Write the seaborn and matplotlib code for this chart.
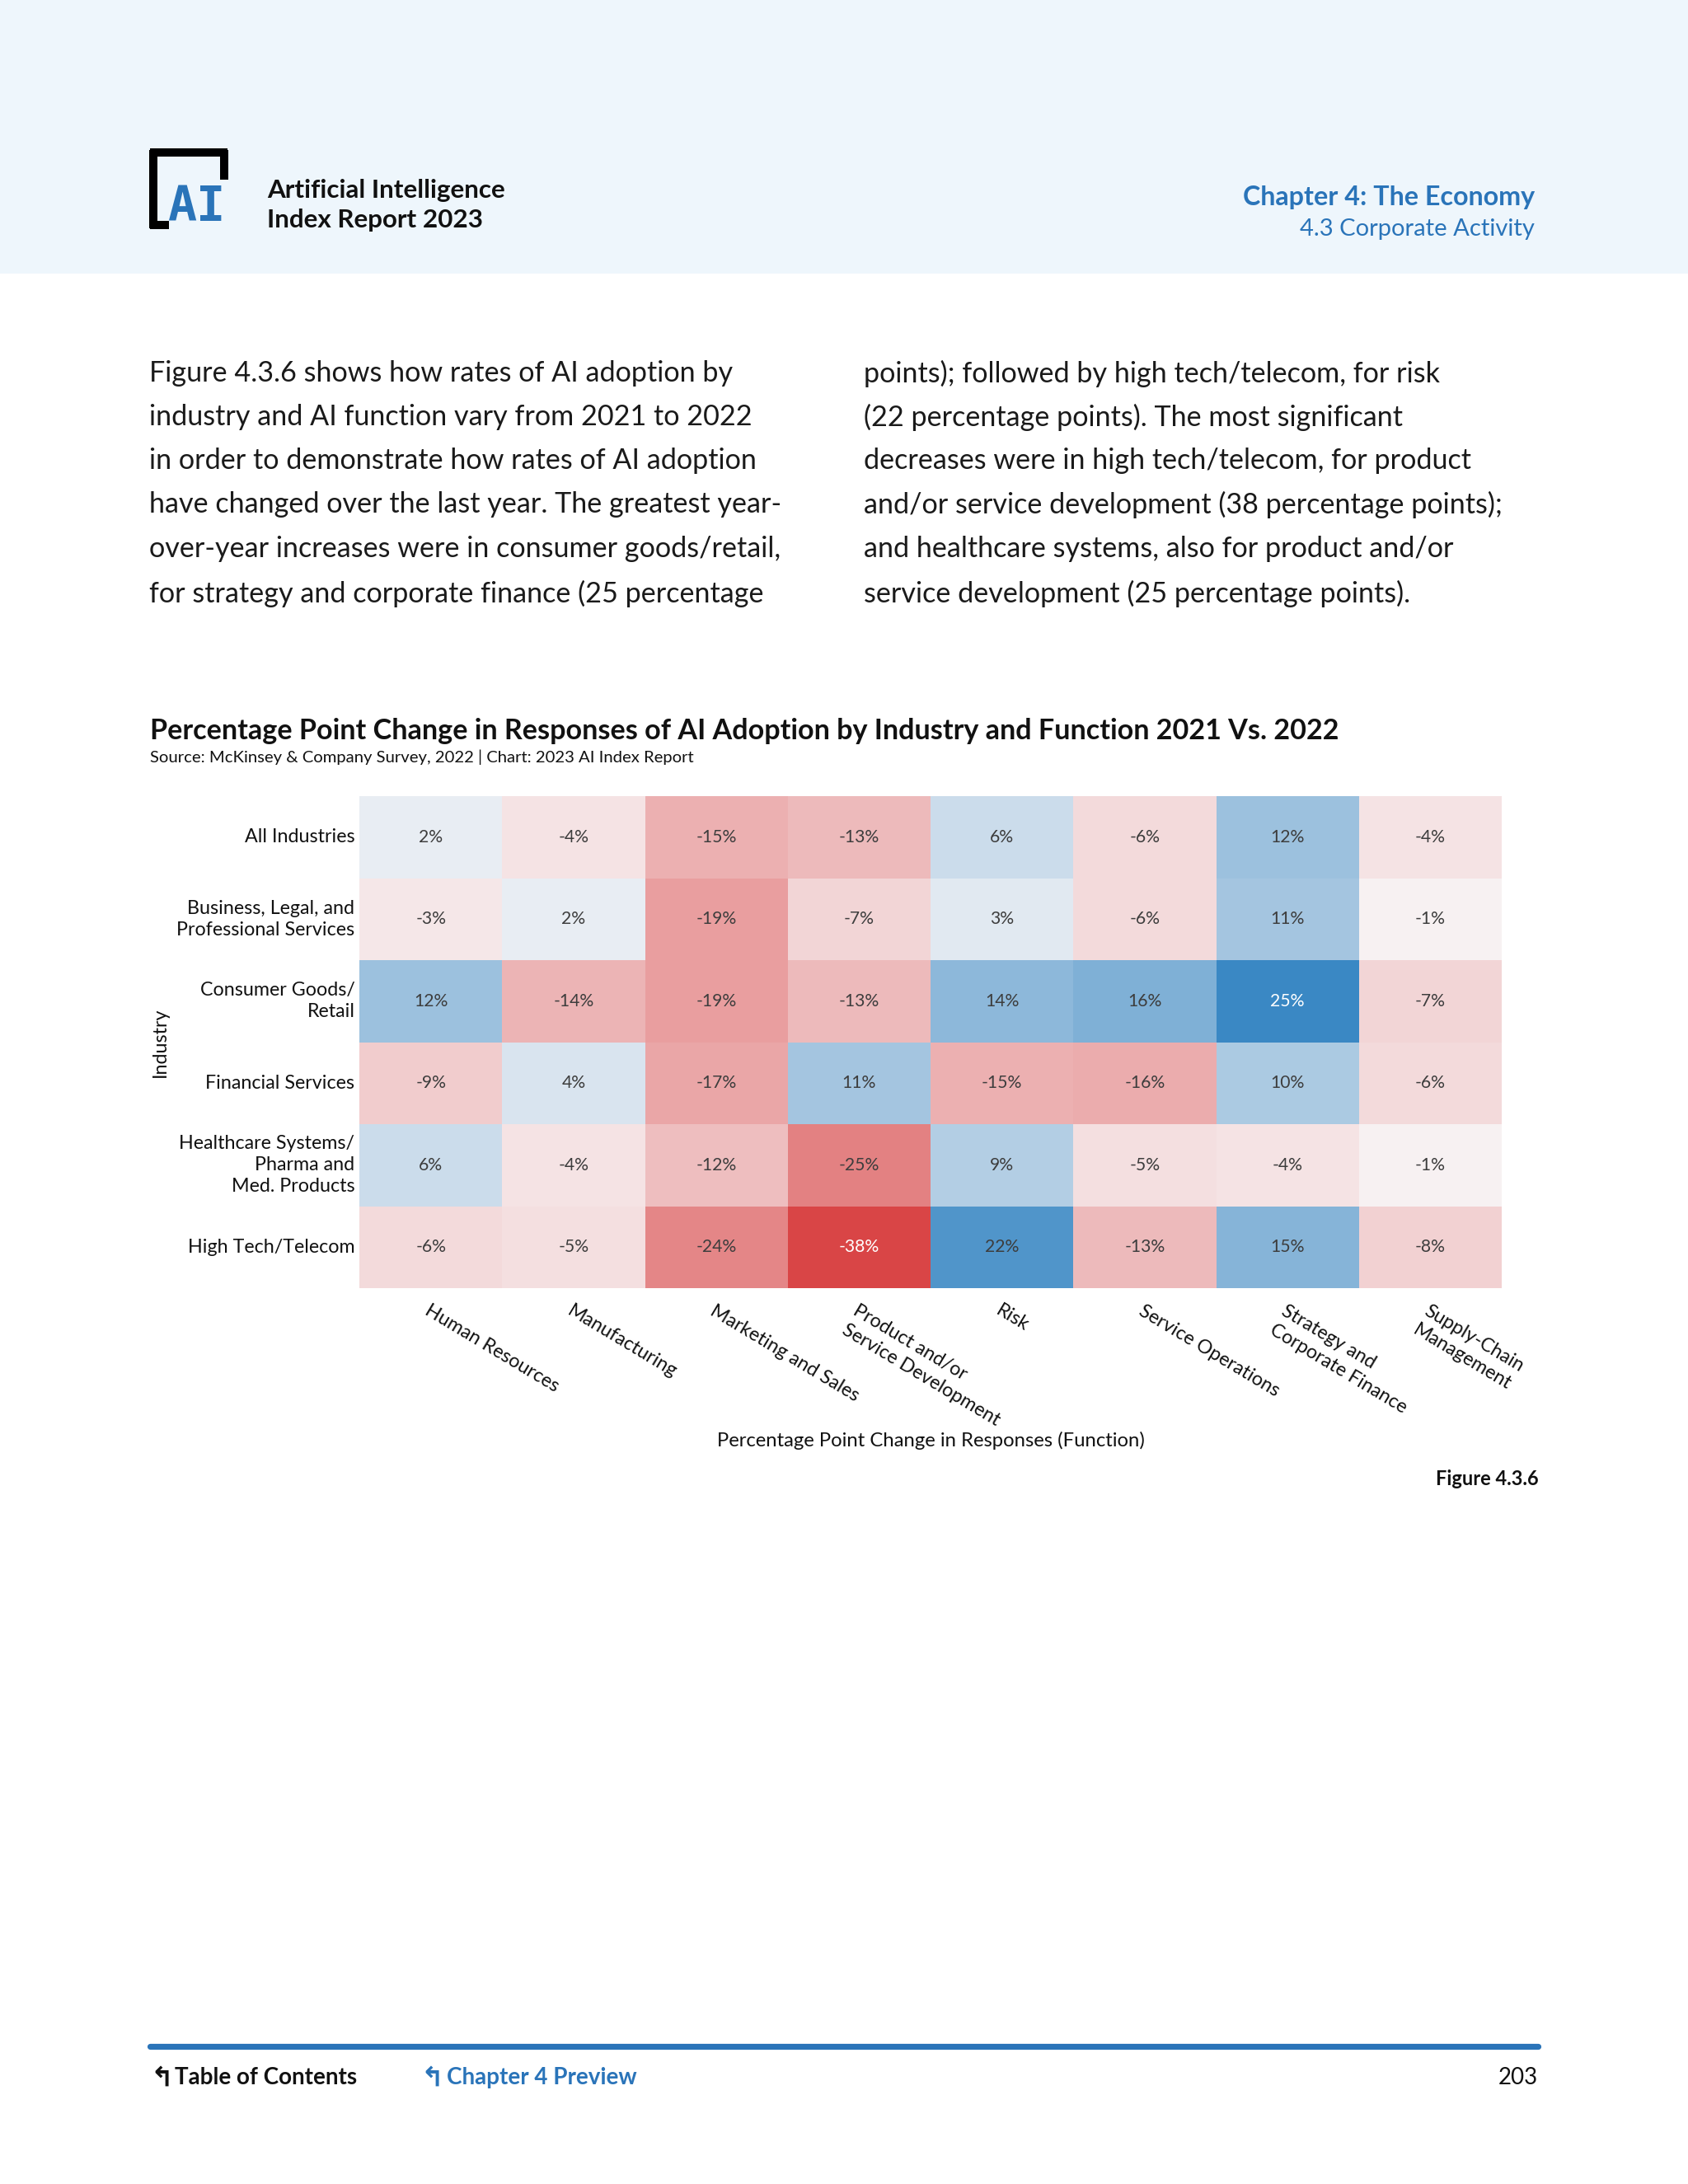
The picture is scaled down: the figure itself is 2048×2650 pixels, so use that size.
import numpy as np
import pandas as pd
import matplotlib.pyplot as plt
import seaborn as sns
from matplotlib.colors import LinearSegmentedColormap, TwoSlopeNorm
from matplotlib.patches import Rectangle
from matplotlib.lines import Line2D

industries = ["All Industries",
              "Business, Legal, and\nProfessional Services",
              "Consumer Goods/\nRetail",
              "Financial Services",
              "Healthcare Systems/\nPharma and\nMed. Products",
              "High Tech/Telecom"]
functions = ["Human Resources", "Manufacturing", "Marketing and Sales",
             "Product and/or\nService Development", "Risk", "Service Operations",
             "Strategy and\nCorporate Finance", "Supply-Chain\nManagement"]

all_industries = [2, -4, -15, -13, 6, -6, 12, -4]
business_legal = [-3, 2, -19, -7, 3, -6, 11, -1]
consumer_goods = [12, -14, -19, -13, 14, 16, 25, -7]
financial = [-9, 4, -17, 11, -15, -16, 10, -6]
healthcare = [6, -4, -12, -25, 9, -5, -4, -1]
high_tech = [-6, -5, -24, -38, 22, -13, 15, -8]

left_col = ["Figure 4.3.6 shows how rates of AI adoption by",
            "industry and AI function vary from 2021 to 2022",
            "in order to demonstrate how rates of AI adoption",
            "have changed over the last year. The greatest year-",
            "over-year increases were in consumer goods/retail,",
            "for strategy and corporate finance (25 percentage"]
right_col = ["points); followed by high tech/telecom, for risk",
             "(22 percentage points). The most significant",
             "decreases were in high tech/telecom, for product",
             "and/or service development (38 percentage points);",
             "and healthcare systems, also for product and/or",
             "service development (25 percentage points)."]

plt.rcParams['font.family'] = ['Lato', 'DejaVu Sans']

W, H = 2048, 2650
fig = plt.figure(figsize=(W / 200, H / 200), dpi=200)


def fx(px):
    return px / W


def fy(py):
    return 1 - py / H


blue = "#2a74b9"
ink = "#111111"

# header band
fig.patches.append(Rectangle((0, fy(330)), 1, 330 / H, transform=fig.transFigure,
                             color="#eef6fc", zorder=0))
# logo
for xs, ys in [([182, 276], [185, 185]), ([186, 186], [182, 277]),
               ([272, 272], [182, 218]), ([182, 205], [273, 273])]:
    fig.add_artist(Line2D([fx(x) for x in xs], [fy(y) for y in ys], color="black",
                          lw=3.6, solid_capstyle="butt"))
fig.text(fx(203), fy(251), "AI", color=blue, fontsize=21, fontweight="bold",
         family="DejaVu Sans Mono", va="center", ha="left")
fig.text(fx(324), fy(231), "Artificial Intelligence", fontsize=11.3, fontweight="bold",
         va="center", color=ink)
fig.text(fx(324), fy(267), "Index Report 2023", fontsize=11.3, fontweight="bold",
         va="center", color=ink)
fig.text(fx(1862), fy(239), "Chapter 4: The Economy", fontsize=11.6, fontweight="bold",
         va="center", ha="right", color=blue)
fig.text(fx(1862), fy(278), "4.3 Corporate Activity", fontsize=10.5,
         va="center", ha="right", color=blue)

# body text
line_y = [453, 506, 559, 612, 666, 720]
for y, a, b in zip(line_y, left_col, right_col):
    fig.text(fx(181), fy(y), a, fontsize=12.3, va="center", color="#1a1a1a")
    fig.text(fx(1048), fy(y), b, fontsize=12.3, va="center", color="#1a1a1a")

# chart title
fig.text(fx(182), fy(887), "Percentage Point Change in Responses of AI Adoption by Industry and Function 2021 Vs. 2022",
         fontsize=12.3, fontweight="bold", va="center", color=ink)
fig.text(fx(182), fy(919), "Source: McKinsey & Company Survey, 2022 | Chart: 2023 AI Index Report",
         fontsize=7.3, va="center", color=ink)

df = pd.DataFrame([all_industries, business_legal, consumer_goods, financial, healthcare, high_tech],
                  index=industries, columns=functions)
labels = df.map(lambda v: f"{v}%")

cmap = LinearSegmentedColormap.from_list("rb", ["#d94546", "#f8f6f7", "#3a88c4"])
norm = TwoSlopeNorm(vmin=-38, vcenter=0, vmax=25)

ax = fig.add_axes([fx(436), fy(1563), (1822 - 436) / W, (1563 - 966) / H])
sns.heatmap(df, ax=ax, cmap=cmap, norm=norm, annot=labels, fmt="", cbar=False,
            linewidths=0, annot_kws={"fontsize": 7.6})
for t, v in zip(ax.texts, df.values.flatten()):
    t.set_color("white" if abs(norm(v) - 0.5) > 0.45 else "#3d3d3d")

ax.tick_params(axis="both", length=0)
ax.tick_params(axis="y", pad=2)
ax.tick_params(axis="x", pad=6)
ax.set_yticklabels(industries, rotation=0, fontsize=8.4, color=ink, ha="right",
                   linespacing=1.3)
ax.set_xticklabels(functions, rotation=-31, ha="left", va="top", rotation_mode="anchor",
                   fontsize=8.4, color=ink, linespacing=1.35)
ax.set_ylabel("Industry", fontsize=8.4, color=ink)
ax.yaxis.set_label_coords(-0.167, 0.5)
ax.set_xlabel("Percentage Point Change in Responses (Function)", fontsize=8.6, color=ink)
ax.xaxis.set_label_coords(0.5, -0.291)

fig.text(fx(1867), fy(1795), "Figure 4.3.6", fontsize=8.5, fontweight="bold",
         ha="right", va="center", color=ink)

# footer
fig.add_artist(Line2D([fx(182), fx(1866)], [fy(2483), fy(2483)], color=blue, lw=2.6,
                      solid_capstyle="round"))
fig.text(fx(182), fy(2521), "\u21b0", fontsize=12, fontweight="bold", va="center",
         color=ink, family="DejaVu Sans")
fig.text(fx(212), fy(2521), "Table of Contents", fontsize=10, fontweight="bold",
         va="center", color=ink)
fig.text(fx(510), fy(2521), "\u21b0", fontsize=12, fontweight="bold", va="center",
         color=blue, family="DejaVu Sans")
fig.text(fx(542), fy(2521), "Chapter 4 Preview", fontsize=10, fontweight="bold",
         va="center", color=blue)
fig.text(fx(1866), fy(2521), "203", fontsize=10, va="center", ha="right", color=ink)

fig.savefig("out.png", dpi=200, facecolor="white")
